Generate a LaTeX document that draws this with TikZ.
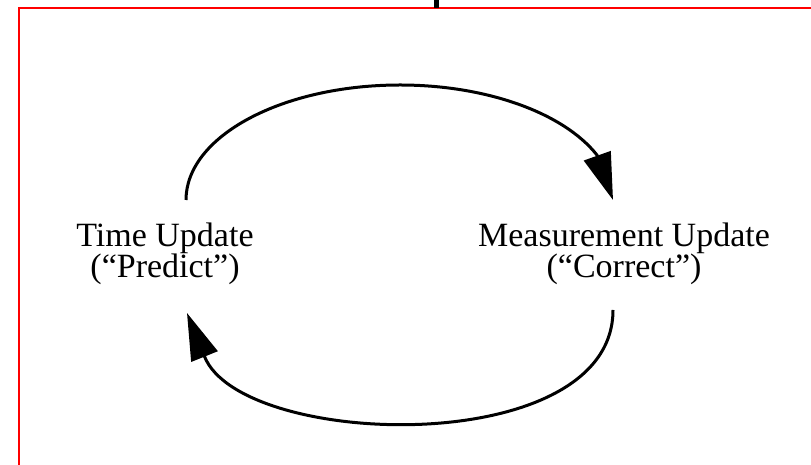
\documentclass[tikz,border=0pt]{standalone}
\usepackage{fontspec}
\setmainfont{Liberation Serif}
\usetikzlibrary{arrows.meta}
\begin{document}
\begin{tikzpicture}[x=1pt,y=1pt,
  label text/.style={align=center, anchor=base, inner sep=0pt,
    font=\fontsize{34}{31}\selectfont},
  loop line/.style={line width=3pt, -{Triangle[length=47pt,width=28pt]}},
  frame line/.style={red, line width=2pt}]
\useasboundingbox (0,0) rectangle (811,465);
% frame
\draw[frame line] (18.5,0) -- (18.5,457) -- (811,457);
\fill[black] (434,457) rectangle (439,465);
% labels
\node[label text] (tu) at (165,187) {Time Update\\(“Predict”)};
\node[label text] (mu) at (624,187) {Measurement Update\\(“Correct”)};
% connector end points
\coordinate (tuOut) at (186,265);
\coordinate (muIn) at (613,265);
\coordinate (muOut) at (613,155);
\coordinate (tuIn) at (187,152);
% connectors
\draw[loop line] (tuOut) arc[start angle=180, end angle=23, x radius=214pt, y radius=115pt] -- (muIn);
\draw[loop line] (muOut) .. controls (613,5) and (241.7,15.9) .. (204.5,108.5) -- (tuIn);
\end{tikzpicture}
\end{document}
